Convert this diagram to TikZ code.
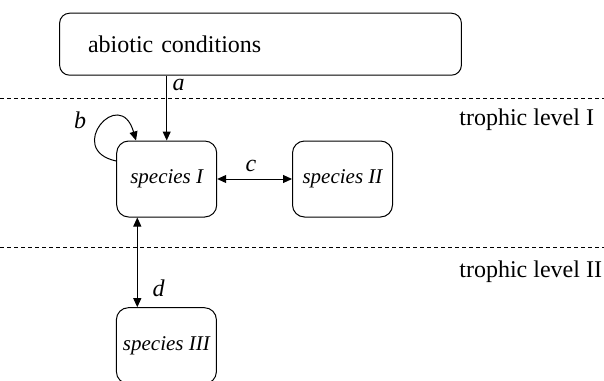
\documentclass[tikz,border=0pt]{standalone}
\usepackage{fontspec}
\setmainfont{Liberation Serif}
\usetikzlibrary{arrows.meta}
\begin{document}
\begin{tikzpicture}[x=0.5pt,y=-0.5pt,
  box/.style={draw, line width=0.5pt, rounded corners=6pt, minimum width=50pt, minimum height=38pt, inner sep=0pt, font=\fontsize{10.5}{12}\selectfont\itshape},
  abiobox/.style={draw, line width=0.5pt, rounded corners=5pt, minimum height=31pt, text width=172.5pt, inner xsep=14.2pt, align=left, font=\fontsize{12}{14}\selectfont},
  arr/.style={line width=0.5pt, -{Triangle[length=4.5pt,width=4pt]}},
  darr/.style={line width=0.5pt, {Triangle[length=4.5pt,width=4pt]}-{Triangle[length=4.5pt,width=4pt]}},
  lab/.style={font=\fontsize{12}{14}\selectfont\itshape, inner sep=0pt},
  level/.style={font=\fontsize{12}{14}\selectfont, inner sep=0pt, anchor=west},
  sep/.style={line width=0.5pt, dash pattern=on 2pt off 1.5pt}]
\useasboundingbox (0,0) rectangle (604,380);
\clip (0,0) rectangle (604,380);
% separators
\coordinate (s1l) at (0,98.5);
\coordinate (s1r) at (604,98.5);
\coordinate (s2l) at (0,247.5);
\coordinate (s2r) at (604,247.5);
\draw[sep] (s1l) -- (s1r);
\draw[sep] (s2l) -- (s2r);
% nodes
\node[abiobox] (abio) at (260.5,44.2) {abiotic conditions};
\node[box] (s1) at (166.7,179) {species I};
\node[box] (s2) at (342.5,179) {species II};
\node[box] (s3) at (166.4,345.7) {species III};
\node[level] (t1) at (459,120) {trophic level I};
\node[level] (t2) at (459,271.5) {trophic level II};
% connectors
\draw[arr] (s1.north |- abio.south) -- (s1.north);
\draw[darr] (s1.east) -- (s2.west);
\draw[darr] ([xshift=-14.7pt]s1.south) -- ([xshift=-14.55pt]s3.north);
\draw[arr] ([yshift=9pt]s1.west) .. controls +(-52,-11) and +(-16,-56) .. ([xshift=-15.35pt]s1.north);
% labels
\node[lab] (la) at (178.5,85) {a};
\node[lab] (lb) at (80,120) {b};
\node[lab] (lc) at (251,166) {c};
\node[lab] (ld) at (158.5,288) {d};
\end{tikzpicture}
\end{document}
